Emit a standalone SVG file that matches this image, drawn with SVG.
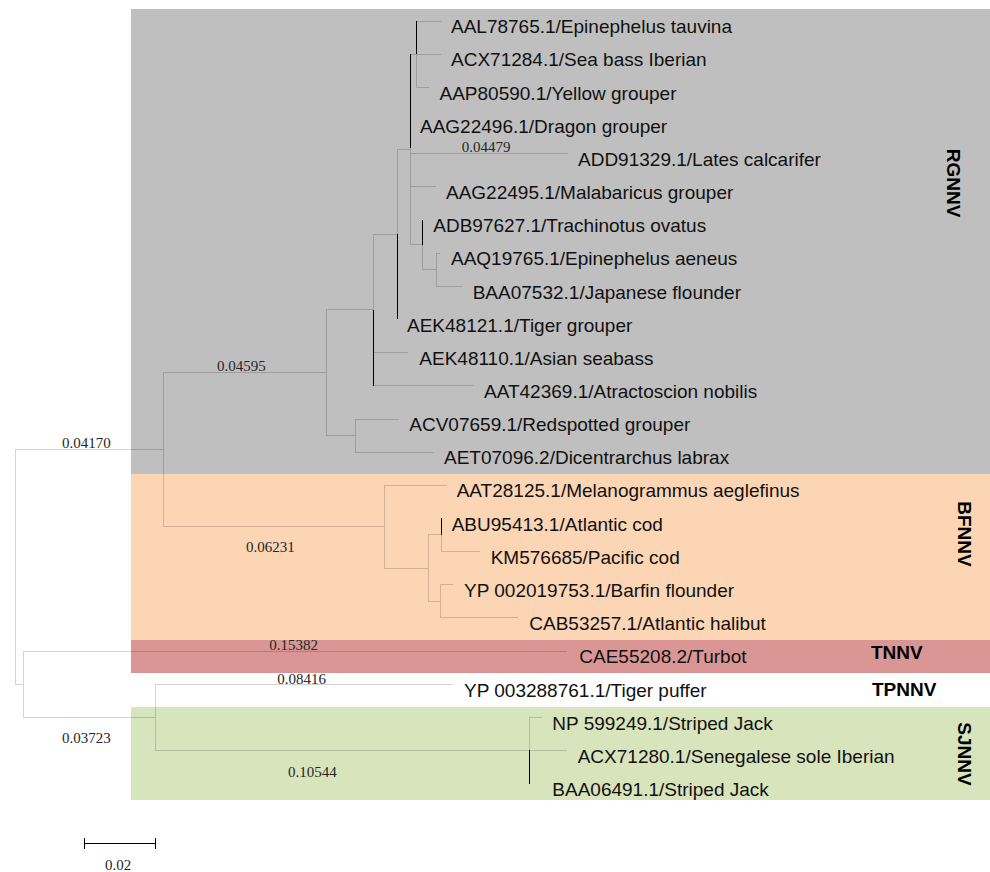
<svg xmlns="http://www.w3.org/2000/svg" width="990" height="872" viewBox="0 0 990 872">
<style>
.tip{font-family:"Liberation Sans",Arial,sans-serif;font-size:19px;fill:#111}
.bl{font-family:"Liberation Serif","Times New Roman",serif;font-size:15px;fill:#262626}
.clade{font-family:"Liberation Sans",Arial,sans-serif;font-size:19px;font-weight:bold;fill:#000}
.gl{fill:none;stroke:#000;stroke-width:1}
.bk{fill:none;stroke:#000;stroke-width:1}
</style>
<rect width="990" height="872" fill="#fff"/>
<g id="backgrounds">
<rect x="131" y="9" width="859" height="465" fill="#BFBFBF"/>
<rect x="131" y="474" width="859" height="166" fill="#FCD5B4"/>
<rect x="131" y="640" width="859" height="33" fill="#DA9694"/>
<rect x="131" y="707" width="859" height="93" fill="#D8E4BC"/>
</g>
<g id="connectors">
<g opacity="0.17" shape-rendering="crispEdges">
<path class="gl" d="M416 54V87M416 21H442M416 54H441M416 87H429
M410 148V244.5M410 54H416M410 153H568M410 186.5H436M410 244.5H422
M422 244.5V269.5M422 269.5H436
M436 253V286M436 253H440M436 286H462
M397 149V234M397 149H410
M373 234V309.5M373 234H397M373 352.5H408M373 385.5H474
M326 309.5V435.5M326 309.5H373M326 435.5H355
M355 419V452M355 419H399M355 452H434
M163 372.5V526.5M163 372.5H326M163 526.5H384
M384 485V568M384 485H447M384 568H428
M428 534.5V601M428 534.5H441M428 601H440
M441 534.5V551M441 551H480
M440 584.5V617.5M440 584.5H453M440 617.5H518
M15 449.5V684M15 449.5H163M15 684H23
M23 651V717M23 651H567M23 717H155
M155 684V750M155 684H453M155 750H529
M529 717V750M529 717H542M529 750H567"/>
</g>
<path class="bk" shape-rendering="crispEdges" d="M416 21V54M410 54V148M422 220V244.5M397 234V319M373 309.5V385.5M441 518V534.5M529 750V783.5"/>
</g>
<g id="branch-lengths">
<text class="bl" x="461.7" y="151.5">0.04479</text>
<text class="bl" x="217" y="370.5">0.04595</text>
<text class="bl" x="62" y="448">0.04170</text>
<text class="bl" x="246" y="552">0.06231</text>
<text class="bl" x="269.3" y="650">0.15382</text>
<text class="bl" x="277.3" y="683.5">0.08416</text>
<text class="bl" x="62" y="743">0.03723</text>
<text class="bl" x="288" y="777">0.10544</text>
</g>
<g id="tips">
<g id="AAL78765"><text class="tip" x="451" y="33">AAL78765.1/Epinephelus tauvina</text></g>
<g id="ACX71284"><text class="tip" x="451" y="66">ACX71284.1/Sea bass Iberian</text></g>
<g id="AAP80590"><text class="tip" x="439.5" y="99.5">AAP80590.1/Yellow grouper</text></g>
<g id="AAG22496"><text class="tip" x="420" y="132.5">AAG22496.1/Dragon grouper</text></g>
<g id="ADD91329"><text class="tip" x="578" y="165.5">ADD91329.1/Lates calcarifer</text></g>
<g id="AAG22495"><text class="tip" x="446" y="199">AAG22495.1/Malabaricus grouper</text></g>
<g id="ADB97627"><text class="tip" x="433.3" y="232">ADB97627.1/Trachinotus ovatus</text></g>
<g id="AAQ19765"><text class="tip" x="451" y="265.3">AAQ19765.1/Epinephelus aeneus</text></g>
<g id="BAA07532"><text class="tip" x="472.7" y="298.5">BAA07532.1/Japanese flounder</text></g>
<g id="AEK48121"><text class="tip" x="407" y="331.6">AEK48121.1/Tiger grouper</text></g>
<g id="AEK48110"><text class="tip" x="419.3" y="364.8">AEK48110.1/Asian seabass</text></g>
<g id="AAT42369"><text class="tip" x="484" y="398">AAT42369.1/Atractoscion nobilis</text></g>
<g id="ACV07659"><text class="tip" x="409.3" y="431.1">ACV07659.1/Redspotted grouper</text></g>
<g id="AET07096"><text class="tip" x="444" y="464.3">AET07096.2/Dicentrarchus labrax</text></g>
<g id="AAT28125"><text class="tip" x="456.7" y="497.4">AAT28125.1/Melanogrammus aeglefinus</text></g>
<g id="ABU95413"><text class="tip" x="451.7" y="530.5">ABU95413.1/Atlantic cod</text></g>
<g id="KM576685"><text class="tip" x="490.7" y="563.5">KM576685/Pacific cod</text></g>
<g id="YP002019753"><text class="tip" x="464" y="596.8">YP 002019753.1/Barfin flounder</text></g>
<g id="CAB53257"><text class="tip" x="529.3" y="629.6">CAB53257.1/Atlantic halibut</text></g>
<g id="CAE55208"><text class="tip" x="579.3" y="663.3">CAE55208.2/Turbot</text></g>
<g id="YP003288761"><text class="tip" x="464" y="696.5">YP 003288761.1/Tiger puffer</text></g>
<g id="NP599249"><text class="tip" x="552.3" y="729.5">NP 599249.1/Striped Jack</text></g>
<g id="ACX71280"><text class="tip" x="577.7" y="762.6">ACX71280.1/Senegalese sole Iberian</text></g>
<g id="BAA06491"><text class="tip" x="552.3" y="795.7">BAA06491.1/Striped Jack</text></g>
</g>
<g id="clades">
<g id="RGNNV"><text class="clade" transform="translate(947,183) rotate(90)" text-anchor="middle">RGNNV</text></g>
<g id="BFNNV"><text class="clade" transform="translate(957.5,534) rotate(90)" text-anchor="middle">BFNNV</text></g>
<g id="TNNV"><text class="clade" x="871" y="659">TNNV</text></g>
<g id="TPNNV"><text class="clade" x="872" y="696">TPNNV</text></g>
<g id="SJNNV"><text class="clade" transform="translate(957.5,754) rotate(90)" text-anchor="middle">SJNNV</text></g>
</g>
<g id="scale-bar">
<path d="M84 843.5H156M84.5 838V849M155.5 838V849" fill="none" stroke="#000" stroke-width="1.2" shape-rendering="crispEdges"/>
<text class="bl" x="105" y="870">0.02</text>
</g>
</svg>
